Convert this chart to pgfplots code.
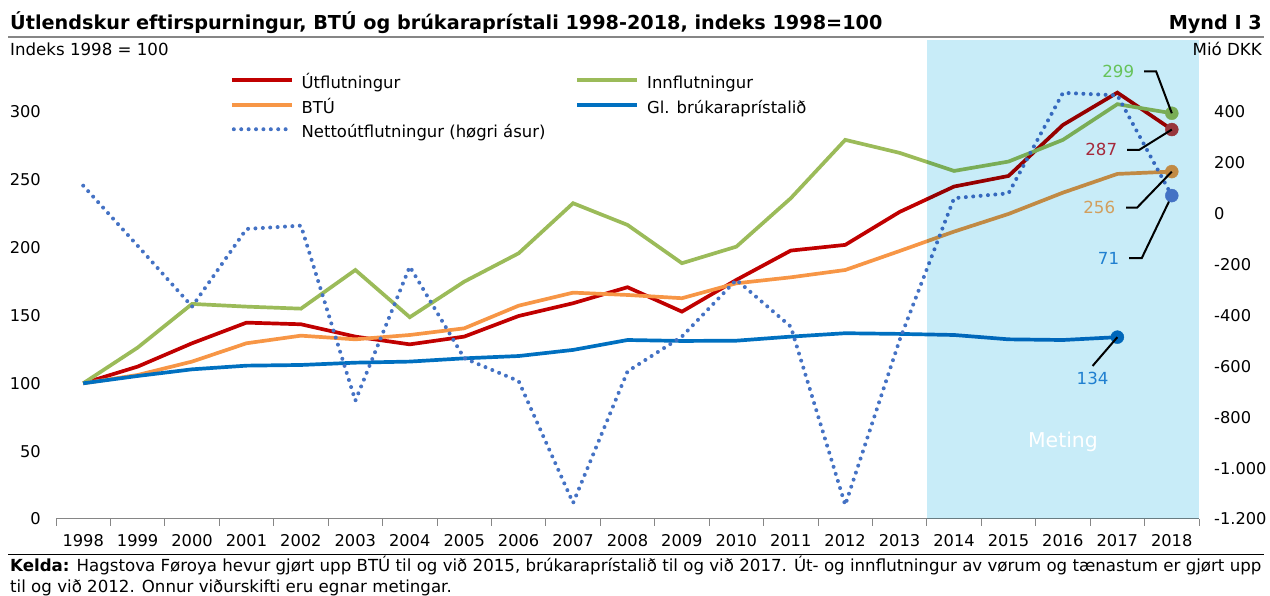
\documentclass[border=0pt]{standalone}
\usepackage{fontspec}
\setmainfont{DejaVu Sans}
\usepackage{pgfplots}
\usepackage{pgfplotstable}
\pgfplotsset{compat=1.18}
\definecolor{cRed}{HTML}{C00000}
\definecolor{cGreen}{HTML}{9BBB59}
\definecolor{cOrange}{HTML}{F79646}
\definecolor{cBlue}{HTML}{0070C0}
\definecolor{cDot}{HTML}{4472C4}
\definecolor{cShade}{HTML}{C8ECF8}
\definecolor{cAxis}{HTML}{868686}
\definecolor{tGreen}{HTML}{66C35A}
\definecolor{tRed}{HTML}{A5283A}
\definecolor{tOrange}{HTML}{D29F5E}
\definecolor{tBlue}{HTML}{1F7FD0}

\pgfplotstableread{
year ut inn btu
1998 100 100 100
1999 112.3 126.3 106.1
2000 129.5 158.5 116.0
2001 144.7 156.5 129.5
2002 143.5 155.0 135.1
2003 134.4 183.5 132.4
2004 128.7 148.7 135.6
2005 134.4 174.9 140.5
2006 149.6 195.8 157.2
2007 159.0 232.7 166.8
2008 170.8 216.7 165.1
2009 152.8 188.5 162.7
2010 176.2 200.7 173.7
2011 197.8 236.4 178.1
2012 202.0 279.4 183.5
2013 226.3 269.8 197.5
2014 245.0 256.5 211.8
2015 252.8 263.4 224.8
2016 290.4 279.4 240.5
2017 314.2 305.7 254.3
2018 287.0 299.0 256.0
}\maindata

\pgfplotstableread{
year gl
1998 100
1999 105.4
2000 110.3
2001 113.0
2002 113.5
2003 115.2
2004 116.0
2005 118.4
2006 120.1
2007 124.6
2008 131.9
2009 131.2
2010 131.4
2011 134.4
2012 136.9
2013 136.4
2014 135.6
2015 132.4
2016 131.9
2017 134.0
}\gldata

\pgfplotstableread{
year netto
1998 110
1999 -126
2000 -365
2001 -60
2002 -47
2003 -735
2004 -208
2005 -568
2006 -658
2007 -1137
2008 -620
2009 -483
2010 -260
2011 -444
2012 -1145
2013 -496
2014 61
2015 80
2016 475
2017 465
2018 71
}\nettodata

\tikzset{dotstyle/.style={cDot, line width=4bp, line cap=round, dash pattern=on 0bp off 7.4bp}}

\begin{document}
\begin{tikzpicture}[x=1bp,y=1bp]
\useasboundingbox (0,0) rectangle (1270,596);
\fontsize{16.7}{19}\selectfont
% title
\node[anchor=base west, inner sep=0pt, font=\fontsize{19.3}{22}\selectfont\bfseries] at (10,566) {Útlendskur eftirspurningur, BTÚ og brúkaraprístali 1998-2018, indeks 1998=100};
\node[anchor=base east, inner sep=0pt, font=\fontsize{19.3}{22}\selectfont\bfseries] at (1262,566) {Mynd I 3};
\draw[cAxis, line width=2bp] (8,558.5) -- (1264,558.5);
\node[anchor=west, inner sep=0pt] at (10,547) {Indeks 1998 = 100};
\node[anchor=east, inner sep=0pt] at (1262,547) {Mió DKK};

\begin{axis}[
  at={(56bp,77bp)}, anchor=south west, scale only axis,
  width=1143bp, height=479bp,
  xmin=1997.5, xmax=2018.5, ymin=0, ymax=353,
  axis x line*=bottom, axis y line*=left,
  y axis line style={draw=none},
  x axis line style={draw=cAxis, line width=1bp, -},
  xtick={1998,1999,...,2018},
  xticklabels={1998,1999,2000,2001,2002,2003,2004,2005,2006,2007,2008,2009,2010,2011,2012,2013,2014,2015,2016,2017,2018},
  minor xtick={1997.5,1998.5,...,2018.5},
  major tick length=0pt, minor tick length=7bp, tick align=outside,
  minor x tick style={draw=cAxis, line width=1bp},
  ytick={0,50,...,300},
  yticklabels={0,50,100,150,200,250,300},
  tick label style={font=\fontsize{16.3}{19}\selectfont},
  yticklabel style={anchor=east, inner sep=0pt, xshift=-15bp},
  xticklabel style={anchor=north, inner sep=0pt, yshift=-15bp},
  clip=false,
  legend columns=2,
  legend cell align=left,
  legend style={at={(0.1522,0.9217)}, anchor=north west, draw=none, fill=none,
    inner sep=0pt, outer sep=0pt, row sep=10bp,
    font=\fontsize{16.5}{19}\selectfont,
    nodes={inner sep=0pt, text height=11.5bp, text depth=3bp},
    /tikz/every even column/.append style={column sep=30bp}},
  legend image code/.code={\draw[line cap=butt,#1] (0bp,4.5bp) -- (60bp,4.5bp); \path (0bp,0bp) (68bp,0bp);},
]
\addplot[cRed, line width=3.7bp] table[x=year,y=ut]{\maindata};
\addlegendentry{Útflutningur}
\addplot[cGreen, line width=3.7bp] table[x=year,y=inn]{\maindata};
\addlegendentry{Innflutningur}
\addplot[cOrange, line width=3.7bp] table[x=year,y=btu]{\maindata};
\addlegendentry{BTÚ}
\addplot[cBlue, line width=3.7bp] table[x=year,y=gl]{\gldata};
\addlegendentry{Gl. brúkaraprístalið}
\addlegendimage{legend image code/.code={\draw[cDot, line width=4bp, line cap=round, dash pattern=on 0bp off 7.4bp] (2bp,4.5bp) -- (60bp,4.5bp); \path (0bp,0bp) (68bp,0bp);}}
\addlegendentry{Nettoútflutningur (høgri ásur)}
\addplot[only marks, mark=*, mark size=6.5bp, cGreen, forget plot] coordinates {(2018,299)};
\addplot[only marks, mark=*, mark size=6.5bp, cRed!75!cShade, forget plot] coordinates {(2018,287)};
\addplot[only marks, mark=*, mark size=6.5bp, cOrange, forget plot] coordinates {(2018,256)};
\addplot[only marks, mark=*, mark size=6.5bp, cBlue, forget plot] coordinates {(2017,134)};
\end{axis}

\begin{axis}[
  at={(56bp,77bp)}, anchor=south west, scale only axis,
  width=1143bp, height=479bp,
  xmin=1997.5, xmax=2018.5, ymin=-1200, ymax=682.67,
  axis y line*=right, axis x line=none,
  y axis line style={draw=none},
  xtick=\empty,
  ytick={-1200,-1000,...,400},
  yticklabels={-1.200,-1.000,-800,-600,-400,-200,0,200,400},
  major tick length=0pt,
  tick label style={font=\fontsize{16.3}{19}\selectfont},
  yticklabel style={anchor=west, inner sep=0pt, xshift=15bp},
  clip=false,
]
\addplot[dotstyle] table[x=year,y=netto]{\nettodata};
\addplot[only marks, mark=*, mark size=6.5bp, cDot, forget plot] coordinates {(2018,71)};
\fill[cShade, blend mode=multiply] (axis cs:2013.5,-1200) rectangle (axis cs:2018.5,682.67);
\node[white, font=\fontsize{20.5}{24}\selectfont] at (axis cs:2016.0,-897) {Meting};
% leaders (right-axis equivalents of left values)
\draw[black, line width=2bp] (axis cs:2018,394.67) -- ++(-15.7bp,41.9bp) -- ++(-12bp,0bp) node[left=9bp, tGreen, inner sep=0pt] {299};
\draw[black, line width=2bp] (axis cs:2018,330.67) -- ++(-32.7bp,-20.4bp) -- ++(-12bp,0bp) node[left=9bp, tRed, inner sep=0pt] {287};
\draw[black, line width=2bp] (axis cs:2018,165.33) -- ++(-34.7bp,-36bp) -- ++(-11bp,0bp) node[left=10bp, tOrange, inner sep=0pt] {256};
\draw[black, line width=2bp] (axis cs:2018,71) -- ++(-30bp,-62.4bp) -- ++(-12.7bp,0bp) node[left=9bp, tBlue, inner sep=0pt] {71};
\draw[black, line width=2bp] (axis cs:2017,-485.33) -- ++(-24.8bp,-28.8bp) node[below=5bp, tBlue, inner sep=0pt] {134};
\end{axis}

\draw[black, line width=1bp] (8,41) -- (1264,41);
\node[anchor=west, inner sep=0pt] at (10,30) {\textbf{Kelda:} Hagstova Føroya hevur gjørt upp BTÚ til og við 2015, brúkaraprístalið til og við 2017. Út- og innflutningur av vørum og tænastum er gjørt upp};
\node[anchor=west, inner sep=0pt] at (10,8) {til og við 2012. Onnur viðurskifti eru egnar metingar.};
\end{tikzpicture}
\end{document}
